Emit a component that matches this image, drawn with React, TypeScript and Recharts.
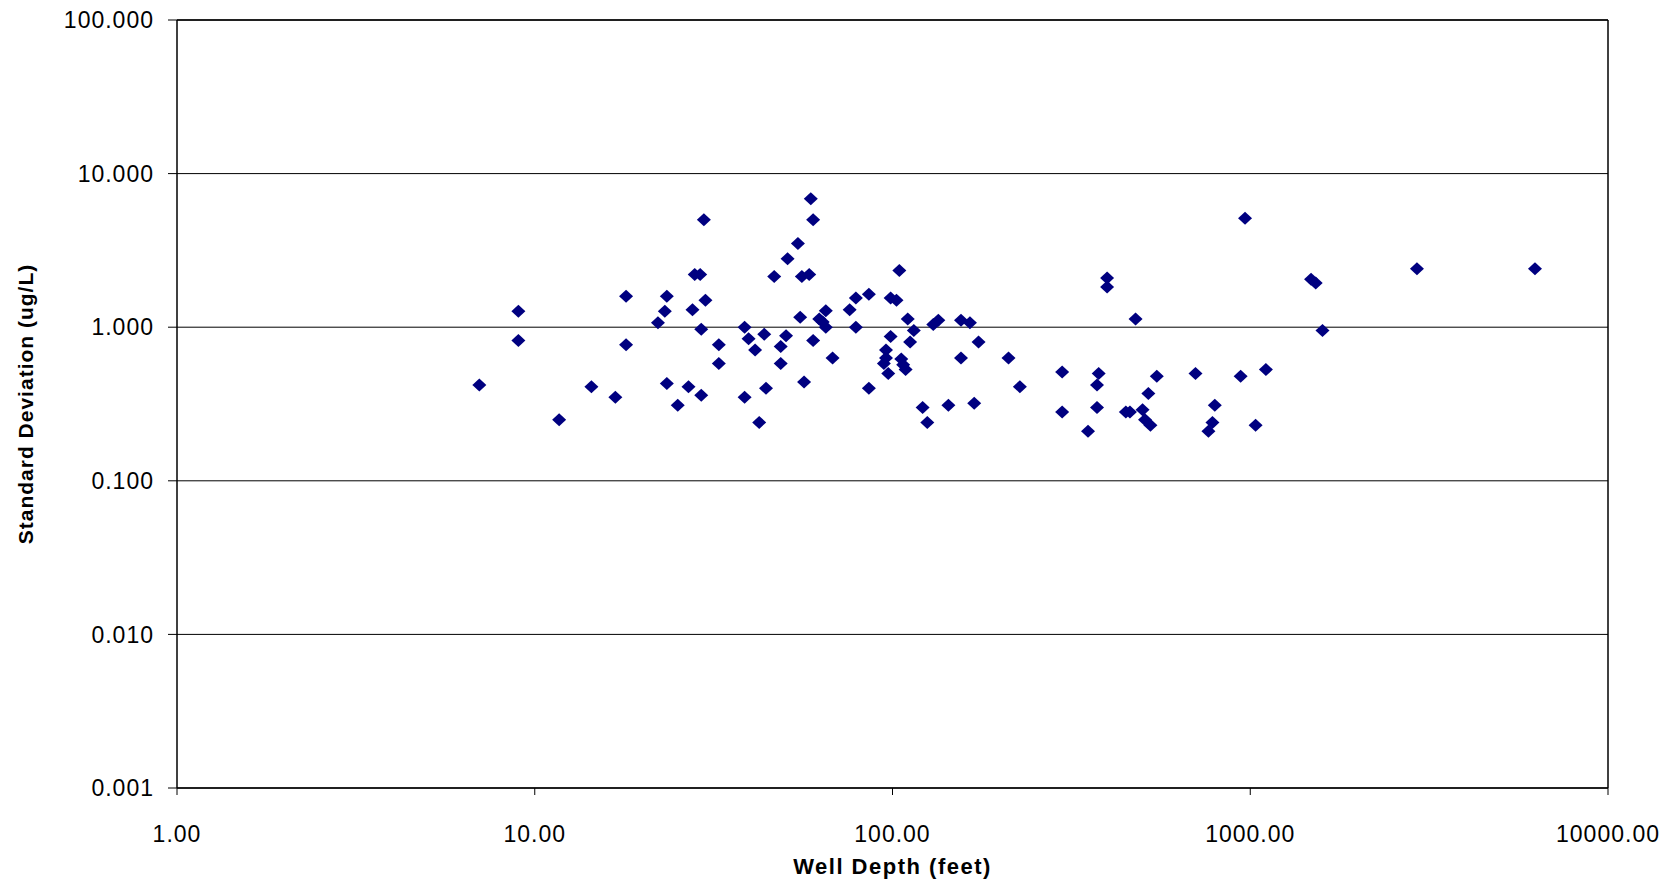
import { ScatterChart, Scatter, XAxis, YAxis, CartesianGrid, ReferenceLine, Label } from 'recharts'

const wellDepth = [
  7.0, 9.0, 9.0, 11.7, 14.4, 16.8, 18.0, 18.0, 22.1, 23.1, 23.4, 23.4, 25.1, 26.9, 27.6, 28.0, 29.0, 29.7,
  30.0, 29.2, 29.2, 32.7, 32.7, 38.6, 38.6, 39.6, 41.3, 42.4, 43.8, 44.3, 46.7, 48.7, 48.7, 50.4, 50.9, 54.4,
  55.2, 55.8, 58.5, 56.6, 59.1, 60.0, 60.0, 62.4, 63.8, 65.1, 65.1, 68.0, 75.9, 79.0, 79.0, 85.9, 85.9, 98.8,
  102.6, 98.8, 104.5, 95.9, 95.9, 94.6, 97.3, 105.8, 107.1, 108.8, 110.3, 114.7, 112.0, 121.4, 125.1, 130.0,
  134.3, 143.3, 155.4, 164.6, 155.4, 169.2, 174.0, 211, 227, 298, 298, 352, 377, 373, 373, 398, 398, 478,
  449, 461, 500, 508, 526, 519, 548, 703, 796, 784, 764, 940, 967, 1035, 1106, 1479, 1524, 1592, 2924, 6250,
]

const stdDev = [
  0.42, 1.27, 0.82, 0.25, 0.41, 0.35, 1.59, 0.77, 1.07, 1.27, 1.59, 0.43, 0.31, 0.41, 1.3, 2.2, 2.2, 5.0,
  1.5, 0.97, 0.36, 0.77, 0.58, 1.0, 0.35, 0.84, 0.71, 0.24, 0.9, 0.4, 2.14, 0.58, 0.75, 0.88, 2.79, 3.51,
  1.16, 2.14, 2.2, 0.44, 6.86, 5.0, 0.82, 1.13, 1.08, 1.28, 1.0, 0.63, 1.3, 1.55, 1.0, 1.64, 0.4, 1.55,
  1.5, 0.87, 2.34, 0.71, 0.63, 0.58, 0.5, 0.62, 0.57, 0.53, 1.13, 0.95, 0.8, 0.3, 0.24, 1.04,
  1.11, 0.31, 1.11, 1.07, 0.63, 0.32, 0.8, 0.63, 0.41, 0.51, 0.28, 0.21, 0.5, 0.42, 0.3, 2.09, 1.83, 1.13,
  0.28, 0.28, 0.29, 0.25, 0.23, 0.37, 0.48, 0.5, 0.31, 0.24, 0.21, 0.48, 5.13, 0.23, 0.53, 2.05, 1.94, 0.95, 2.4, 2.4,
]

const xTicks = [1, 10, 100, 1000, 10000]
const yTicks = [0.001, 0.01, 0.1, 1, 10, 100]

const data = wellDepth.map((d, i) => ({ depth: d, sd: stdDev[i] }))

const font = '"Liberation Sans", Arial, sans-serif'

const Diamond = (props: any) => {
  const { cx, cy } = props
  if (cx == null || cy == null) return null
  return (
    <polygon
      points={`${cx},${cy - 6.5} ${cx + 7},${cy} ${cx},${cy + 6.5} ${cx - 7},${cy}`}
      fill="#000080"
    />
  )
}

export default function App() {
  return (
    <div style={{ width: 1660, height: 872, background: '#fff' }}>
      <ScatterChart width={1660} height={872} margin={{ top: 12, right: 60, bottom: 0, left: 0 }}>
        <CartesianGrid horizontal vertical={false} stroke="#000" strokeWidth={1} />
        <XAxis
          dataKey="depth"
          type="number"
          scale="log"
          domain={[1, 10000]}
          ticks={xTicks}
          tickFormatter={(v: number) => v.toFixed(2)}
          height={92}
          tickSize={7}
          tickMargin={31}
          axisLine={{ stroke: '#000', strokeWidth: 1.5 }}
          tickLine={{ stroke: '#000' }}
          tick={{ fill: '#000', fontSize: 23, fontFamily: font, letterSpacing: 1 }}
          interval={0}
        >
          <Label
            value="Well Depth (feet)"
            position="insideBottom"
            offset={6}
            style={{ fill: '#000', fontSize: 22, fontWeight: 'bold', fontFamily: font, letterSpacing: 1.5 }}
          />
        </XAxis>
        <YAxis
          dataKey="sd"
          type="number"
          scale="log"
          domain={[0.001, 100]}
          ticks={yTicks}
          tickFormatter={(v: number) => v.toFixed(3)}
          width={169}
          tickSize={9}
          tickMargin={14}
          axisLine={{ stroke: '#000', strokeWidth: 1.5 }}
          tickLine={{ stroke: '#000' }}
          tick={{ fill: '#000', fontSize: 23, fontFamily: font, letterSpacing: 1 }}
          interval={0}
        >
          <Label
            value="Standard Deviation (ug/L)"
            angle={-90}
            position="insideLeft"
            offset={18}
            style={{ textAnchor: 'middle', fill: '#000', fontSize: 21, fontWeight: 'bold', fontFamily: font, letterSpacing: 1 }}
          />
        </YAxis>
        <ReferenceLine x={10000} stroke="#000" strokeWidth={1.5} />
        <ReferenceLine y={100} stroke="#000" strokeWidth={1.5} />
        <Scatter data={data} shape={Diamond} isAnimationActive={false} />
      </ScatterChart>
    </div>
  )
}
